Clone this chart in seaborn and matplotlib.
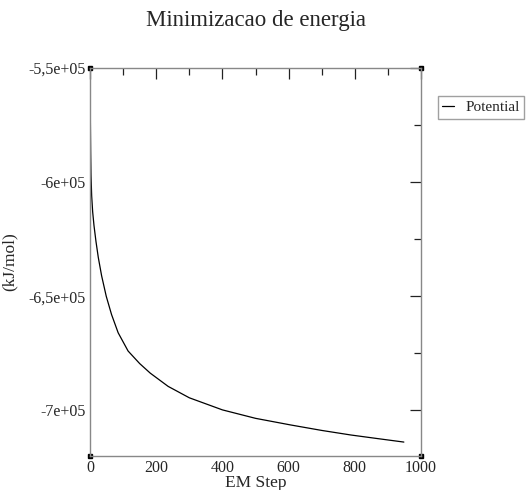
import numpy as np
import pandas as pd
import matplotlib
matplotlib.use("Agg")
import matplotlib.pyplot as plt
from matplotlib.ticker import MultipleLocator, FuncFormatter
import seaborn as sns

# --- Data ---
steps = [0, 1, 2, 3, 5, 8, 12, 18, 25, 35, 49, 65, 85, 115, 150, 182,
         236, 300, 400, 500, 606, 700, 788, 870, 948]
energy = [-5.52e5, -5.72e5, -5.87e5, -5.97e5, -6.06e5, -6.13e5, -6.19e5,
          -6.26e5, -6.33e5, -6.41e5, -6.50e5, -6.58e5, -6.66e5, -6.74e5,
          -6.795e5, -6.837e5, -6.895e5, -6.945e5, -6.998e5, -7.035e5,
          -7.064e5, -7.088e5, -7.108e5, -7.124e5, -7.139e5]
series_name = "Potential"
title = "Minimizacao de energia"
x_label = "EM Step"
y_label = "(kJ/mol)"


def sci_comma(v, pos):
    s = f"{v:.1e}"
    mant, exp = s.split("e")
    mant = mant.rstrip("0").rstrip(".").replace(".", ",")
    sign = "+" if int(exp) >= 0 else "-"
    return f"{mant}e{sign}{abs(int(exp)):02d}"


def main():
    sns.set_theme(style="white")
    plt.rcParams['font.family'] = ['Liberation Serif', 'DejaVu Serif']

    df = pd.DataFrame({"step": steps, "energy": energy, "series": series_name})

    fig = plt.figure(figsize=(5.27, 4.90), dpi=100)
    ax = fig.add_axes([0.1708, 0.0694, 0.6282, 0.7918])

    sns.lineplot(data=df, x="step", y="energy", hue="series",
                 palette=["black"], linewidth=0.9, ax=ax, legend=False)

    ax.set_xlim(0, 1000)
    ax.set_ylim(-7.2e5, -5.5e5)
    ax.xaxis.set_major_locator(MultipleLocator(200))
    ax.xaxis.set_minor_locator(MultipleLocator(100))
    ax.yaxis.set_major_locator(MultipleLocator(5e4))
    ax.yaxis.set_minor_locator(MultipleLocator(2.5e4))
    ax.yaxis.set_major_formatter(FuncFormatter(sci_comma))

    ax.tick_params(which="both", direction="in", top=True, right=True,
                   color="#222222", labelsize=11.5, pad=3)
    ax.tick_params(which="major", length=8, width=0.9)
    ax.tick_params(which="minor", length=5, width=0.9)
    for sp in ax.spines.values():
        sp.set_color("#888888")
        sp.set_linewidth(1.0)

    # small black squares at the frame corners
    ax.plot([0, 1, 0, 1], [0, 0, 1, 1], "s", color="black", markersize=3.5,
            transform=ax.transAxes, clip_on=False)

    ax.set_xlabel(x_label, fontsize=12.5, labelpad=-1)
    ax.set_ylabel(y_label, fontsize=12.5, labelpad=8)
    ax.set_title(title, fontsize=16.5, pad=30)

    ax.legend([plt.Line2D([], [], color="black", linewidth=0.9)], [series_name],
              loc="upper left", bbox_to_anchor=(1.05, 0.928), fontsize=11,
              frameon=True, fancybox=False, edgecolor="#888888",
              handlelength=0.8, handletextpad=0.7, borderpad=0.3,
              borderaxespad=0)

    fig.savefig("out.png", dpi=100)
    plt.close(fig)


if __name__ == "__main__":
    main()
